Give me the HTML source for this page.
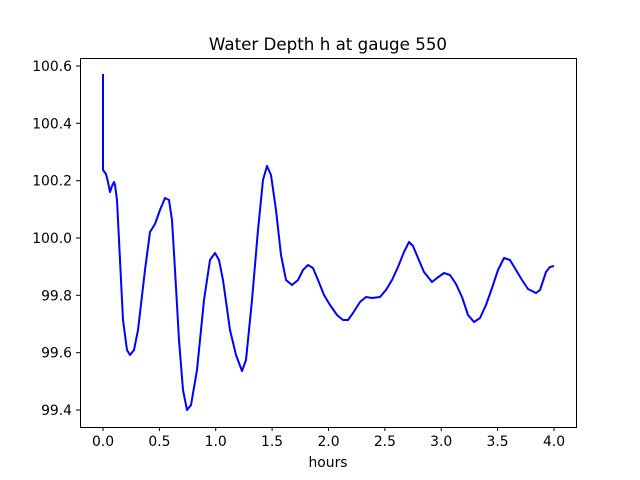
<!DOCTYPE html>
<html><head><style>body{margin:0;background:#fff}svg{display:block}text{font-family:"DejaVu Sans","Liberation Sans",sans-serif;font-size:13.9px;fill:#000}</style></head><body>
<svg width="640" height="480" viewBox="0 0 640 480">
<rect x="0" y="0" width="640" height="480" fill="#fff"/>
<text x="328" y="50" text-anchor="middle" style="font-size:16.7px">Water Depth h at gauge 550</text>
<polyline fill="none" stroke="#0000ff" stroke-width="2" stroke-linejoin="round" points="103,74 103,170 106,174 108,182 110,192 112,186 114,182 115,185 117,200 120,260 123,320 127,350 130,355 134,350 138,330 145,270 150,232 155,224 160,210 165,198 169,200 172,220 175,270 179,340 183,390 187,410 191,405 197,370 204,300 210,260 215,253 219,260 223,280 230,330 236,355 242,371 246,360 252,300 258,230 263,180 267,166 271,175 276,210 281,255 286,280 292,285 298,280 303,270 308,265 313,268 318,280 324,295 330,305 337,315 343,320 348,320 353,313 360,302 366,297 372,298 380,297 386,290 392,280 398,267 404,252 409,242 413,246 418,258 424,272 432,282 437,278 444,273 450,275 456,284 462,297 468,315 474,322 480,318 486,305 492,288 498,270 504,258 510,260 516,270 522,280 528,289 536,293 540,290 546,272 550,267 554,266"/>
<rect x="80.5" y="58.5" width="496" height="369" fill="none" stroke="#000" stroke-width="1"/>
<g stroke="#000" stroke-width="1">
<line x1="103" y1="427" x2="103" y2="431"/><line x1="159.4" y1="427" x2="159.4" y2="431"/><line x1="215.7" y1="427" x2="215.7" y2="431"/><line x1="272.1" y1="427" x2="272.1" y2="431"/><line x1="328.5" y1="427" x2="328.5" y2="431"/><line x1="384.9" y1="427" x2="384.9" y2="431"/><line x1="441.2" y1="427" x2="441.2" y2="431"/><line x1="497.6" y1="427" x2="497.6" y2="431"/><line x1="554" y1="427" x2="554" y2="431"/>
<line x1="76" y1="66" x2="80" y2="66"/><line x1="76" y1="123.3" x2="80" y2="123.3"/><line x1="76" y1="180.7" x2="80" y2="180.7"/><line x1="76" y1="238" x2="80" y2="238"/><line x1="76" y1="295.3" x2="80" y2="295.3"/><line x1="76" y1="352.7" x2="80" y2="352.7"/><line x1="76" y1="410" x2="80" y2="410"/>
</g>
<g text-anchor="middle">
<text x="103" y="446">0.0</text><text x="159.4" y="446">0.5</text><text x="215.7" y="446">1.0</text><text x="272.1" y="446">1.5</text><text x="328.5" y="446">2.0</text><text x="384.9" y="446">2.5</text><text x="441.2" y="446">3.0</text><text x="497.6" y="446">3.5</text><text x="554" y="446">4.0</text>
<text x="328" y="467">hours</text>
</g>
<g text-anchor="end">
<text x="72" y="71">100.6</text><text x="72" y="128.3">100.4</text><text x="72" y="185.7">100.2</text><text x="72" y="243">100.0</text><text x="72" y="300.3">99.8</text><text x="72" y="357.7">99.6</text><text x="72" y="415">99.4</text>
</g>
</svg>
</body></html>
